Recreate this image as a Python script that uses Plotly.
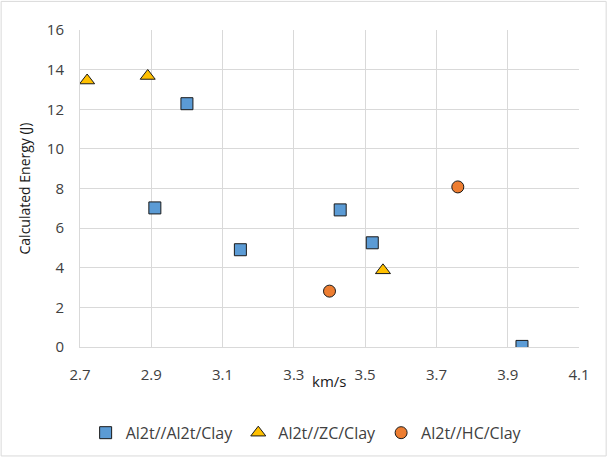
import plotly.graph_objects as go

# Data
al2t_x = [3.00, 2.91, 3.15, 3.43, 3.52, 3.94]
al2t_y = [12.28, 7.02, 4.91, 6.92, 5.26, 0.03]
zc_x = [2.72, 2.89, 3.55]
zc_y = [13.45, 13.68, 3.87]
hc_x = [3.76, 3.40]
hc_y = [8.08, 2.82]

x_ticks = [2.7, 2.9, 3.1, 3.3, 3.5, 3.7, 3.9, 4.1]
y_ticks = [0, 2, 4, 6, 8, 10, 12, 14, 16]

W, H = 607, 462
L, R, T, B = 79.5, 27.7, 29.5, 111
pw = W - L - R
ph = H - T - B

font_family = "Open Sans, Noto Sans, sans-serif"
txt_color = "#404040"

fig = go.Figure()
fig.add_trace(go.Scatter(x=al2t_x, y=al2t_y, mode="markers", name="Al2t//Al2t/Clay",
                         marker=dict(symbol="square", size=12, color="#5B9BD5",
                                     line=dict(color="#1a1a1a", width=1))))
fig.add_trace(go.Scatter(x=zc_x, y=zc_y, mode="markers", name="Al2t//ZC/Clay",
                         marker=dict(symbol="triangle-up", size=13, color="#FFC000",
                                     line=dict(color="#1a1a1a", width=1))))
fig.add_trace(go.Scatter(x=hc_x, y=hc_y, mode="markers", name="Al2t//HC/Clay",
                         marker=dict(symbol="circle", size=12, color="#ED7D31",
                                     line=dict(color="#1a1a1a", width=1))))

fig.update_layout(
    width=W, height=H,
    margin=dict(l=L, r=R, t=T, b=B, pad=0),
    paper_bgcolor="white", plot_bgcolor="white",
    font=dict(family=font_family, size=15, color=txt_color),
    xaxis=dict(range=[2.7, 4.1], tickvals=x_ticks, ticktext=[f"{v:.1f}" for v in x_ticks],
               showgrid=True, gridcolor="#D9D9D9", gridwidth=1,
               zeroline=False, showline=True, linecolor="#D9D9D9", linewidth=1,
               ticks="", ticklen=0, ticklabelstandoff=14,
               tickfont=dict(size=15, color=txt_color)),
    yaxis=dict(range=[0, 16], tickvals=y_ticks,
               showgrid=True, gridcolor="#D9D9D9", gridwidth=1,
               zeroline=False, showline=True, linecolor="#D9D9D9", linewidth=1,
               ticks="", ticklabelstandoff=12, tickfont=dict(size=15, color=txt_color),
               title=dict(text="Calculated Energy (J)", font=dict(size=14, color="#1a1a1a"),
                          standoff=12)),
    legend=dict(orientation="h", x=(306 - L) / pw, xanchor="center",
                y=-(438 - T - ph) / ph, yanchor="middle",
                font=dict(size=16, color=txt_color), itemwidth=30,
                bgcolor="rgba(0,0,0,0)"),
    showlegend=True,
)

fig.add_annotation(text="km/s", xref="paper", yref="paper",
                   x=(329 - L) / pw, y=-(385 - T - ph) / ph,
                   showarrow=False, font=dict(size=15, color="#1a1a1a"),
                   xanchor="center", yanchor="middle")

fig.add_shape(type="rect", xref="paper", yref="paper",
              x0=-(L - 0.5) / pw, x1=1 + (R - 0.5) / pw,
              y0=-(B - 0.5) / ph, y1=1 + (T - 0.5) / ph,
              line=dict(color="#D9D9D9", width=1), layer="below")

fig.write_html("out.html", config={"displayModeBar": False},
               post_script="document.body.style.margin='0';document.body.style.padding='0';")
